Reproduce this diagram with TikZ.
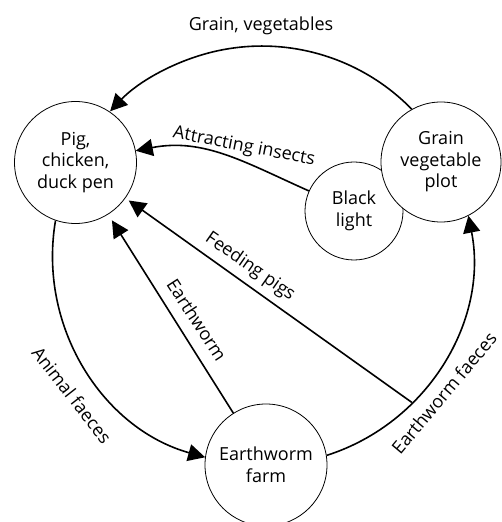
\documentclass[tikz,border=0pt]{standalone}
\usepackage{fontspec}
\setmainfont{Open Sans}
\usetikzlibrary{arrows.meta,positioning,calc}

\tikzset{
  unit/.style={circle, draw, fill=white, line width=0.8pt, minimum size=122pt,
    inner sep=0pt, align=center, font=\fontsize{18}{21.5}\selectfont},
  flow/.style={line width=1.6pt, -{Triangle[length=17pt,width=17pt]}},
  lbl/.style={font=\fontsize{18}{21.5}\selectfont, inner sep=0pt}
}

\begin{document}
\begin{tikzpicture}[x=1pt,y=1pt]
  \useasboundingbox (0,0) rectangle (501,522);
  \coordinate (hub) at (262.3,266);

  % units round the ring
  \node[unit] (pen) at (75.5,359.5) {Pig,\\chicken,\\duck pen};
  \node[unit, minimum size=98pt] (light) at (354,311) {Black\\light};
  \node[unit, minimum size=120pt] (plot) at (441,360) {Grain\\vegetable\\plot};
  \node[unit] (farm) at (266,57) {Earthworm\\farm};

  % outer cycle, one ring of radius 209.3
  \draw[flow] (plot.119) arc[start angle=44.3, end angle=136.5, radius=209.3];
  \draw[flow] (pen.251.5) arc[start angle=170.3, end angle=254.3, radius=209.3];
  \draw[flow] (farm.9) arc[start angle=-72.3, end angle=11.1, radius=209.3];
  \coordinate (fp) at ($(hub)+(-44.4:209.3)$);

  % cross links
  \draw[flow] (light) to[out=156, in=11] (pen);
  \draw[flow, shorten >=7pt] (farm) -- (pen);
  \draw[flow, shorten >=4pt] (fp) -- (pen);

  % labels
  \node[lbl] (grainlbl) at (261,496) {Grain, vegetables};
  \node[lbl, rotate=-11] (insectlbl) at (244,375) {Attracting insects};
  \node[lbl, rotate=-35] (feedlbl) at (250,255) {Feeding pigs};
  \node[lbl, rotate=-57] (wormlbl) at (197,202) {Earthworm};
  \node[lbl, rotate=-52] (dunglbl) at (72,127) {Animal faeces};
  \node[lbl, rotate=50] (castlbl) at (444,129) {Earthworm faeces};
\end{tikzpicture}
\end{document}
